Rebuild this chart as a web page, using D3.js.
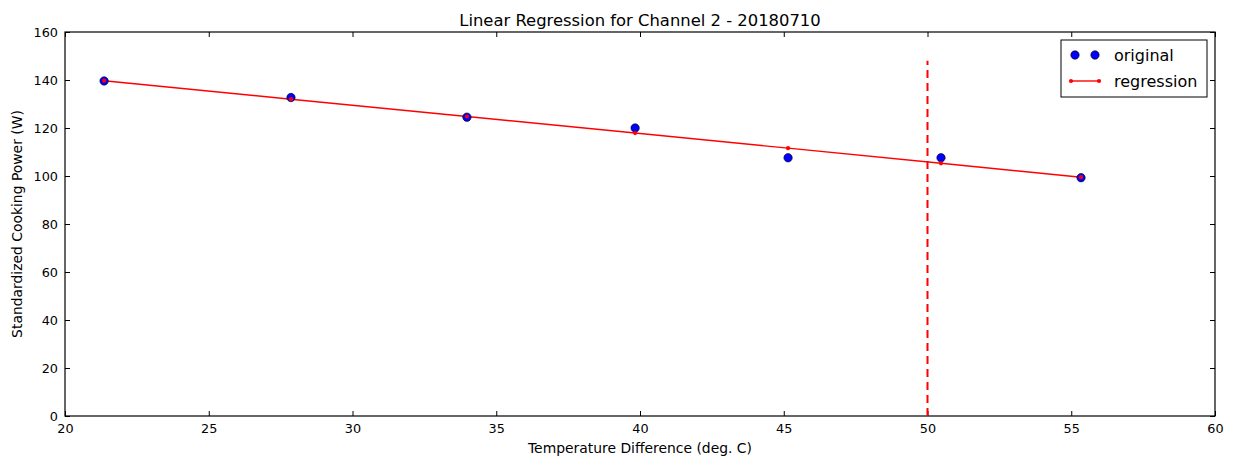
<!DOCTYPE html>
<html>
<head>
<meta charset="utf-8">
<script src="https://cdn.jsdelivr.net/npm/d3@7"></script>
<style>
  html, body { margin: 0; padding: 0; background: #fff; }
  svg text { font-family: "DejaVu Sans", sans-serif; fill: #000; }
</style>
</head>
<body>
<div id="chart"></div>
<script>
// Data
const tempDiff = [21.36, 27.86, 33.98, 39.83, 45.15, 50.47, 55.34];
const originalPower = [139.6, 132.7, 124.5, 120.0, 107.6, 107.6, 99.3];
const regressionPower = [139.7, 132.0, 124.8, 117.9, 111.6, 105.3, 99.5];
const xTicks = [20, 25, 30, 35, 40, 45, 50, 55, 60];
const yTicks = [0, 20, 40, 60, 80, 100, 120, 140, 160];
const cutoffX = 50;
const cutoffTop = 148;

const W = 1237, H = 457;
const margin = {top: 32, right: 22, bottom: 41, left: 65};
const width = W - margin.left - margin.right;
const height = H - margin.top - margin.bottom;

const svg = d3.select("#chart").append("svg")
    .attr("width", W)
    .attr("height", H);

const g = svg.append("g")
    .attr("transform", `translate(${margin.left},${margin.top})`);

const x = d3.scaleLinear().domain([20, 60]).range([0, width]);
const y = d3.scaleLinear().domain([0, 160]).range([height, 0]);

// axes, ticks pointing inward on all four sides
const tickLen = 5;
g.append("g")
    .attr("transform", `translate(0,${height})`)
    .call(d3.axisBottom(x).tickValues(xTicks).tickSizeInner(-tickLen).tickSizeOuter(0).tickPadding(8))
    .call(a => a.select(".domain").remove());
g.append("g")
    .call(d3.axisLeft(y).tickValues(yTicks).tickSizeInner(-tickLen).tickSizeOuter(0).tickPadding(7))
    .call(a => a.select(".domain").remove());
g.append("g")
    .call(d3.axisTop(x).tickValues(xTicks).tickSizeInner(-tickLen).tickSizeOuter(0).tickFormat(""))
    .call(a => a.select(".domain").remove());
g.append("g")
    .attr("transform", `translate(${width},0)`)
    .call(d3.axisRight(y).tickValues(yTicks).tickSizeInner(-tickLen).tickSizeOuter(0).tickFormat(""))
    .call(a => a.select(".domain").remove());

g.selectAll(".tick text").style("font-size", "12.8px").style("font-family", "DejaVu Sans");
g.selectAll(".tick line").attr("stroke", "#000").attr("stroke-width", 1);

// frame
g.append("rect")
    .attr("width", width)
    .attr("height", height)
    .attr("fill", "none")
    .attr("stroke", "#000")
    .attr("stroke-width", 1.2);

// regression line
const pts = tempDiff.map((t, i) => ({t: t, o: originalPower[i], r: regressionPower[i]}));
g.append("path")
    .datum(pts)
    .attr("fill", "none")
    .attr("stroke", "#ff0000")
    .attr("stroke-width", 1.4)
    .attr("d", d3.line().x(d => x(d.t)).y(d => y(d.r)));

// original points
g.selectAll(".orig")
    .data(pts)
    .enter().append("circle")
    .attr("class", "orig")
    .attr("cx", d => x(d.t))
    .attr("cy", d => y(d.o))
    .attr("r", 4.2)
    .attr("fill", "#0000ff")
    .attr("stroke", "#000")
    .attr("stroke-width", 0.6);

// regression markers
g.selectAll(".reg")
    .data(pts)
    .enter().append("circle")
    .attr("class", "reg")
    .attr("cx", d => x(d.t))
    .attr("cy", d => y(d.r))
    .attr("r", 2.1)
    .attr("fill", "#ff0000");

// cutoff dashed line
g.append("line")
    .attr("x1", x(cutoffX)).attr("x2", x(cutoffX))
    .attr("y1", y(0)).attr("y2", y(cutoffTop))
    .attr("stroke", "#ff0000")
    .attr("stroke-width", 2)
    .attr("stroke-dasharray", "8,5");

// title & labels
svg.append("text")
    .attr("x", margin.left + width / 2)
    .attr("y", 26)
    .attr("text-anchor", "middle")
    .style("font-size", "16.4px")
    .text("Linear Regression for Channel 2 - 20180710");

svg.append("text")
    .attr("x", margin.left + width / 2)
    .attr("y", 453)
    .attr("text-anchor", "middle")
    .style("font-size", "13.9px")
    .text("Temperature Difference (deg. C)");

svg.append("text")
    .attr("transform", `translate(22,${margin.top + height / 2}) rotate(-90)`)
    .attr("text-anchor", "middle")
    .style("font-size", "13.9px")
    .text("Standardized Cooking Power (W)");

// legend
const leg = svg.append("g").attr("transform", "translate(1061,40)");
leg.append("rect")
    .attr("width", 146).attr("height", 57)
    .attr("fill", "#fff").attr("stroke", "#000").attr("stroke-width", 1);
leg.selectAll(".ldot").data([14, 34]).enter().append("circle")
    .attr("cx", d => d).attr("cy", 15).attr("r", 4.2)
    .attr("fill", "#0000ff").attr("stroke", "#000").attr("stroke-width", 0.6);
leg.append("text").attr("x", 53).attr("y", 21).style("font-size", "16px").text("original");
leg.append("line").attr("x1", 10).attr("x2", 38).attr("y1", 41).attr("y2", 41)
    .attr("stroke", "#ff0000").attr("stroke-width", 1.4);
leg.selectAll(".lreg").data([10, 38]).enter().append("circle")
    .attr("cx", d => d).attr("cy", 41).attr("r", 2.1).attr("fill", "#ff0000");
leg.append("text").attr("x", 53).attr("y", 47).style("font-size", "16px").text("regression");
</script>
</body>
</html>
